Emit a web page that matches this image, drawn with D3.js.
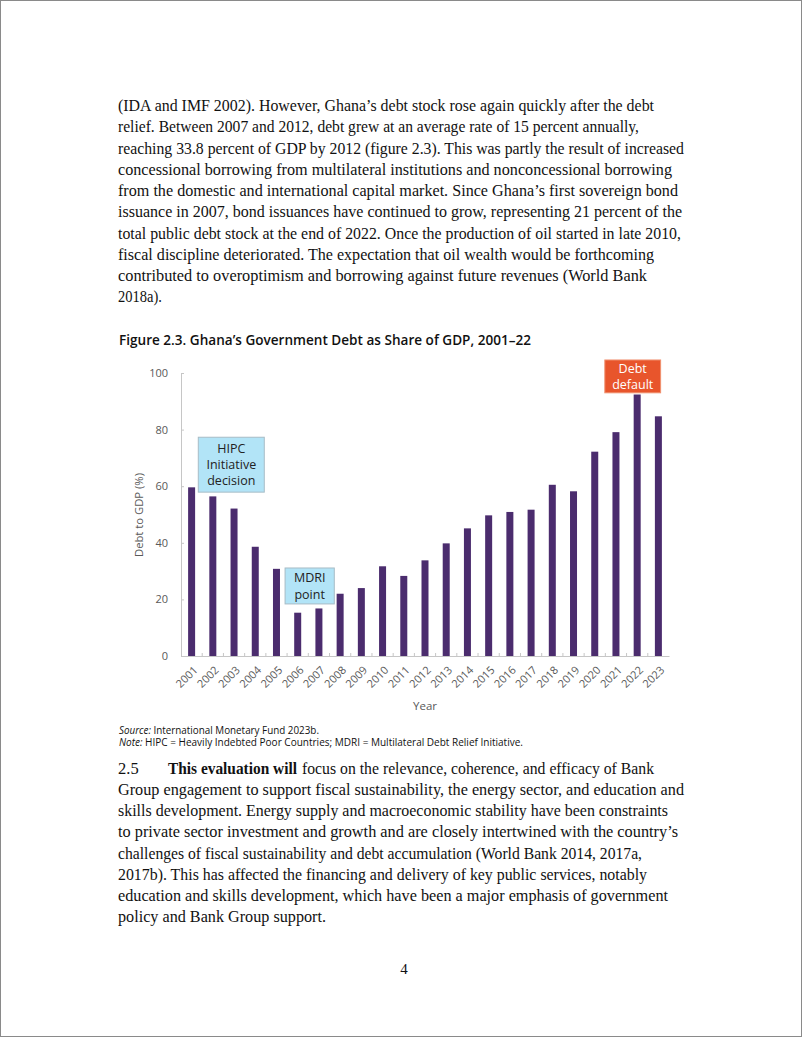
<!DOCTYPE html>
<html>
<head>
<meta charset="utf-8">
<script src="https://cdn.jsdelivr.net/npm/d3@7"></script>
<style>
  html, body { margin: 0; padding: 0; background: #fff; }
  svg { display: block; }
</style>
</head>
<body>
<svg id="page" width="802" height="1037"></svg>
<script>
// ---- Chart data ----
const years = ["2001","2002","2003","2004","2005","2006","2007","2008","2009","2010","2011","2012",
               "2013","2014","2015","2016","2017","2018","2019","2020","2021","2022","2023"];
const debtToGDP = [59.6, 56.4, 52.1, 38.6, 30.8, 15.3, 16.8, 22.0, 24.0, 31.7, 28.3, 33.8,
                   39.8, 45.1, 49.7, 50.9, 51.7, 60.5, 58.2, 72.2, 79.1, 92.4, 84.7];
const yTicks = [0, 20, 40, 60, 80, 100];
const annotations = [
  { lines: ["HIPC", "Initiative", "decision"], kind: "blue" },
  { lines: ["MDRI", "point"], kind: "blue" },
  { lines: ["Debt", "default"], kind: "red" }
];

// ---- Page text ----
const para1 = [
  "(IDA and IMF 2002). However, Ghana\u2019s debt stock rose again quickly after the debt",
  "relief. Between 2007 and 2012, debt grew at an average rate of 15 percent annually,",
  "reaching 33.8 percent of GDP by 2012 (figure 2.3). This was partly the result of increased",
  "concessional borrowing from multilateral institutions and nonconcessional borrowing",
  "from the domestic and international capital market. Since Ghana\u2019s first sovereign bond",
  "issuance in 2007, bond issuances have continued to grow, representing 21 percent of the",
  "total public debt stock at the end of 2022. Once the production of oil started in late 2010,",
  "fiscal discipline deteriorated. The expectation that oil wealth would be forthcoming",
  "contributed to overoptimism and borrowing against future revenues (World Bank",
  "2018a)."
];
const para1W = [536, 521, 566, 554, 560, 564, 563, 536, 529, 44];
const para2 = [
  "Group engagement to support fiscal sustainability, the energy sector, and education and",
  "skills development. Energy supply and macroeconomic stability have been constraints",
  "to private sector investment and growth and are closely intertwined with the country\u2019s",
  "challenges of fiscal sustainability and debt accumulation (World Bank 2014, 2017a,",
  "2017b). This has affected the financing and delivery of key public services, notably",
  "education and skills development, which have been a major emphasis of government",
  "policy and Bank Group support."
];
const para2W = [566, 550, 560, 524, 529, 550, 208];

const svg = d3.select("#page");
const serif = "'Liberation Serif', 'DejaVu Serif', serif";
const sans = "'Open Sans', 'Noto Sans', sans-serif";

// page border
svg.append("rect").attr("x", 0.5).attr("y", 0.5).attr("width", 801).attr("height", 1036)
  .attr("fill", "none").attr("stroke", "#8a8a8a").attr("stroke-width", 1);

// paragraph 1
para1.forEach((t, i) => {
  svg.append("text").attr("x", 118).attr("y", 111 + i * 21.25)
    .attr("font-family", serif).attr("font-size", 16.5).attr("fill", "#111")
    .attr("textLength", para1W[i]).attr("lengthAdjust", "spacingAndGlyphs")
    .text(t);
});

// Figure title
svg.append("text").attr("x", 119).attr("y", 344.5)
  .attr("font-family", sans).attr("font-weight", 600).attr("font-size", 14).attr("fill", "#111")
  .attr("textLength", 412).attr("lengthAdjust", "spacingAndGlyphs")
  .text("Figure 2.3. Ghana\u2019s Government Debt as Share of GDP, 2001\u201322");

// ---- Chart ----
const x = d3.scaleBand().domain(years).range([181, 669]).paddingInner(0.67).paddingOuter(0.335);
const y = d3.scaleLinear().domain([0, 100]).range([656, 373]);

const g = svg.append("g");

// y axis
const yAxis = g.append("g").attr("transform", "translate(181,0)")
  .call(d3.axisLeft(y).tickValues(yTicks).tickSize(-3).tickPadding(13).tickSizeOuter(0));
yAxis.select(".domain").attr("stroke", "#c6c6c6");
yAxis.selectAll(".tick line").attr("stroke", "#c6c6c6");
yAxis.selectAll(".tick text").attr("font-family", sans).attr("font-size", 11).attr("fill", "#595959");

// x axis
const xAxis = g.append("g").attr("transform", "translate(0,656)")
  .call(d3.axisBottom(x).tickSize(0).tickSizeOuter(0));
xAxis.select(".domain").attr("stroke", "#c6c6c6");
xAxis.selectAll(".tick text")
  .attr("font-family", sans).attr("font-size", 11).attr("fill", "#595959")
  .attr("text-anchor", "end").attr("dy", "0.35em")
  .attr("transform", "translate(4,12) rotate(-45)").attr("y", 0).attr("x", 0);
// minor ticks at band boundaries
const boundaries = years.slice(1).map(d => x(d) - x.step() * x.paddingInner() / 2);
xAxis.selectAll(".bnd").data(boundaries).enter().append("line")
  .attr("x1", d => d).attr("x2", d => d).attr("y1", 0).attr("y2", -3)
  .attr("stroke", "#c6c6c6");

// bars
g.selectAll(".bar").data(years).enter().append("rect")
  .attr("x", d => x(d)).attr("width", x.bandwidth())
  .attr("y", (d, i) => y(debtToGDP[i])).attr("height", (d, i) => y(0) - y(debtToGDP[i]))
  .attr("fill", "#4b2c6e");

// axis titles
svg.append("text").attr("transform", "translate(143,515) rotate(-90)")
  .attr("text-anchor", "middle").attr("font-family", sans).attr("font-size", 11.5).attr("fill", "#595959")
  .attr("textLength", 84).attr("lengthAdjust", "spacingAndGlyphs")
  .text("Debt to GDP (%)");
svg.append("text").attr("x", 425).attr("y", 710)
  .attr("text-anchor", "middle").attr("font-family", sans).attr("font-size", 11.5).attr("fill", "#595959")
  .text("Year");

// annotation boxes (placed relative to scales)
const st = x.step();
const boxSpecs = [
  { x0: x("2001") + st * 0.48, x1: x("2004") + st * 0.59, top: y(77.3), bottom: y(57.9), lh: 16 },
  { x0: x("2006") - st * 0.43, x1: x("2008") - st * 0.11, top: y(31.1), bottom: y(18.4), lh: 16.5 },
  { x0: x("2021") - st * 0.36, x1: x("2023") + st * 0.27, top: y(104.6), bottom: y(93.0), lh: 15.5 }
];
annotations.forEach((a, i) => {
  const b = boxSpecs[i];
  const red = a.kind === "red";
  svg.append("rect").attr("x", b.x0).attr("y", b.top).attr("width", b.x1 - b.x0).attr("height", b.bottom - b.top)
    .attr("fill", red ? "#e8552c" : "#b2e4f7")
    .attr("stroke", red ? "#f0906f" : "#a7bcc6").attr("stroke-width", 1);
  const cx = (b.x0 + b.x1) / 2, cy = (b.top + b.bottom) / 2;
  const n = a.lines.length;
  a.lines.forEach((t, j) => {
    svg.append("text").attr("x", cx).attr("y", cy + (j - (n - 1) / 2) * b.lh)
      .attr("dy", "0.36em").attr("text-anchor", "middle")
      .attr("font-family", sans).attr("font-size", 12.5).attr("fill", red ? "#fff" : "#222")
      .text(t);
  });
});

// source / note
const src = svg.append("text").attr("x", 119).attr("y", 733.5)
  .attr("font-family", sans).attr("font-size", 10).attr("fill", "#111")
  .attr("textLength", 200).attr("lengthAdjust", "spacingAndGlyphs");
src.append("tspan").attr("font-style", "italic").text("Source:");
src.append("tspan").text(" International Monetary Fund 2023b.");
const note = svg.append("text").attr("x", 119).attr("y", 745.5)
  .attr("font-family", sans).attr("font-size", 10).attr("fill", "#111")
  .attr("textLength", 404).attr("lengthAdjust", "spacingAndGlyphs");
note.append("tspan").attr("font-style", "italic").text("Note:");
note.append("tspan").text(" HIPC = Heavily Indebted Poor Countries; MDRI = Multilateral Debt Relief Initiative.");

// paragraph 2
svg.append("text").attr("x", 118).attr("y", 774)
  .attr("font-family", serif).attr("font-size", 16.5).attr("fill", "#111").text("2.5");
svg.append("text").attr("x", 168).attr("y", 774)
  .attr("font-family", serif).attr("font-size", 16.5).attr("font-weight", "bold").attr("fill", "#111")
  .attr("textLength", 129).attr("lengthAdjust", "spacingAndGlyphs")
  .text("This evaluation will");
svg.append("text").attr("x", 302).attr("y", 774)
  .attr("font-family", serif).attr("font-size", 16.5).attr("fill", "#111")
  .attr("textLength", 352).attr("lengthAdjust", "spacingAndGlyphs")
  .text("focus on the relevance, coherence, and efficacy of Bank");
para2.forEach((t, i) => {
  svg.append("text").attr("x", 118).attr("y", 774 + (i + 1) * 21.15)
    .attr("font-family", serif).attr("font-size", 16.5).attr("fill", "#111")
    .attr("textLength", para2W[i]).attr("lengthAdjust", "spacingAndGlyphs")
    .text(t);
});

// page number
svg.append("text").attr("x", 404).attr("y", 974).attr("text-anchor", "middle")
  .attr("font-family", serif).attr("font-size", 15).attr("fill", "#111").text("4");
</script>
</body>
</html>
